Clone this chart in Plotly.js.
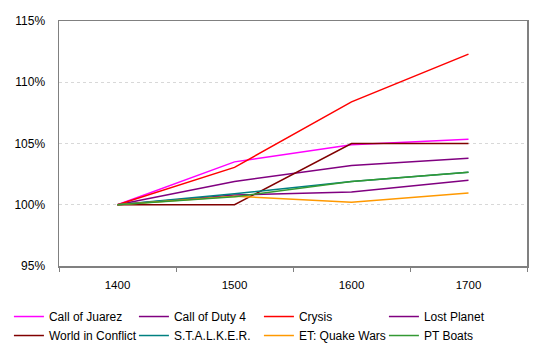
<!DOCTYPE html>
<html>
<head>
<meta charset="utf-8">
<script src="https://cdn.plot.ly/plotly-3.0.1.min.js"></script>
<style>html,body{margin:0;padding:0;background:#fff;}#chart{width:540px;height:350px;}</style>
</head>
<body>
<div id="chart"></div>
<script>
const categories = ["1400", "1500", "1600", "1700"];
const seriesNames = ["Call of Juarez", "Call of Duty 4", "Crysis", "Lost Planet", "World in Conflict", "S.T.A.L.K.E.R.", "ET: Quake Wars", "PT Boats"];
const callOfJuarez = [1.000, 1.035, 1.049, 1.0535];
const callOfDuty4 = [1.000, 1.019, 1.032, 1.038];
const crysis = [1.000, 1.0305, 1.084, 1.123];
const lostPlanet = [1.000, 1.008, 1.0105, 1.020];
const worldInConflict = [1.000, 1.000, 1.050, 1.050];
const stalker = [1.000, 1.009, 1.019, 1.0265];
const etQuakeWars = [1.000, 1.007, 1.002, 1.0095];
const ptBoats = [1.000, 1.0065, 1.019, 1.0265];
const colors = ["#FF00FF", "#800080", "#FF0000", "#800080", "#800000", "#008080", "#FF9900", "#339933"];
const allSeries = [callOfJuarez, callOfDuty4, crysis, lostPlanet, worldInConflict, stalker, etQuakeWars, ptBoats];

const traces = allSeries.map((vals, i) => ({
  type: "scatter",
  mode: "lines",
  name: seriesNames[i],
  x: categories,
  y: vals,
  line: {color: colors[i], width: 1.5},
  hoverinfo: "skip"
}));

const layout = {
  width: 540, height: 350,
  margin: {l: 59, r: 13, t: 21, b: 84, autoexpand: false},
  paper_bgcolor: "#ffffff",
  plot_bgcolor: "#ffffff",
  font: {family: "Liberation Sans, Arial, sans-serif", size: 11, color: "#000000"},
  showlegend: true,
  legend: {
    orientation: "h",
    x: -0.107, xanchor: "left",
    y: -0.147, yanchor: "top",
    entrywidth: 80, entrywidthmode: "pixels",
    tracegroupgap: 0,
    font: {size: 12, family: "Liberation Sans, Arial, sans-serif"}
  },
  xaxis: {
    type: "category",
    range: [-0.5, 3.5],
    tickson: "boundaries",
    ticks: "outside", ticklen: 4, tickcolor: "#808080",
    showline: true, linecolor: "#808080", linewidth: 1.5, mirror: true,
    showgrid: false, zeroline: false,
    tickfont: {size: 11.5},
    ticklabelstandoff: 8
  },
  yaxis: {
    range: [0.95, 1.15],
    tickvals: [0.95, 1.00, 1.05, 1.10, 1.15],
    ticktext: ["95%", "100%", "105%", "110%", "115%"],
    showline: true, linecolor: "#808080", linewidth: 1.5, mirror: true,
    showgrid: true, gridcolor: "#d8d8d8", griddash: "dot", gridwidth: 1,
    zeroline: false,
    ticks: "", tickfont: {size: 12},
    ticklabelstandoff: 10
  }
};

Plotly.newPlot("chart", traces, layout, {displayModeBar: false, staticPlot: true});
</script>
</body>
</html>
